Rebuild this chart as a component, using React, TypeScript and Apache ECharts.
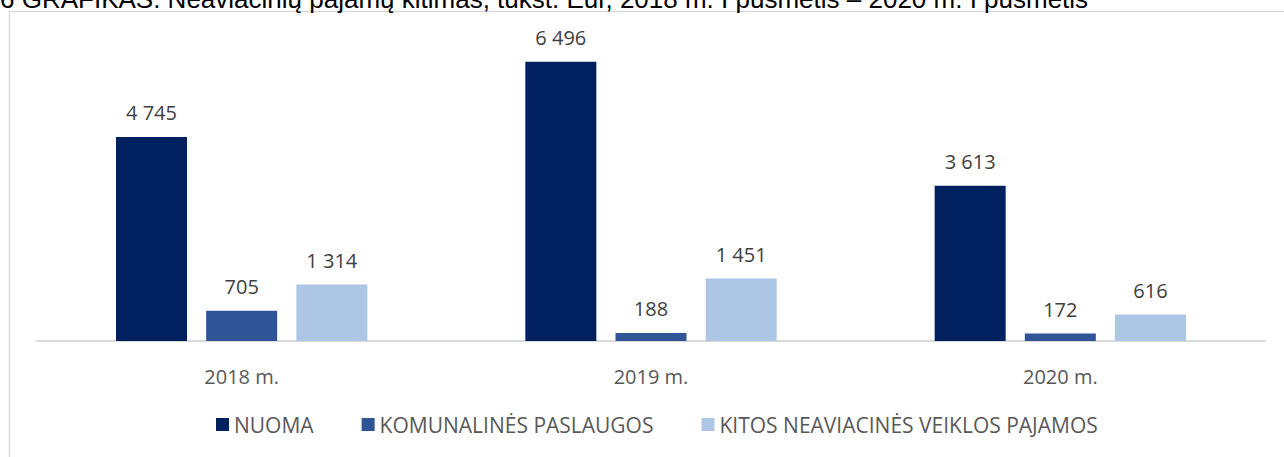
import React, { useEffect, useRef } from "react";
import * as echarts from "echarts";

const categories = ["2018 m.", "2019 m.", "2020 m."];
const seriesNames = ["NUOMA", "KOMUNALINĖS PASLAUGOS", "KITOS NEAVIACINĖS VEIKLOS PAJAMOS"];
const nuoma = [4745, 6496, 3613];
const komunalines = [705, 188, 172];
const kitos = [1314, 1451, 616];
const colors = ["#002060", "#2F5597", "#ADC6E6"];
const titleText = "6 GRAFIKAS. Neaviacinių pajamų kitimas, tūkst. Eur, 2018 m. I pusmetis – 2020 m. I pusmetis";

const fmt = (v: number) => String(v).replace(/\B(?=(\d{3})+(?!\d))/g, " ");

export default function App() {
  const ref = useRef<HTMLDivElement>(null);
  useEffect(() => {
    if (!ref.current) return;
    const chart = echarts.init(ref.current, undefined, { renderer: "svg" });
    const font = "'Open Sans', sans-serif";
    const mk = (name: string, data: number[], color: string) => ({
      name,
      type: "bar",
      data,
      barWidth: 71,
      barGap: "27%",
      itemStyle: { color },
      label: {
        show: true,
        position: "top",
        distance: 14,
        color: "#404040",
        fontSize: 20,
        fontFamily: font,
        formatter: (p: any) => fmt(p.value),
      },
    });
    chart.setOption({
      animation: false,
      backgroundColor: "#ffffff",
      grid: { left: 37, right: 19, top: 40, bottom: 457 - 341 },
      xAxis: {
        type: "category",
        data: categories,
        axisLine: { lineStyle: { color: "#D9D9D9", width: 2 } },
        axisTick: { show: false },
        axisLabel: { color: "#595959", fontSize: 20, fontFamily: font, margin: 25 },
      },
      yAxis: {
        type: "value",
        min: 0,
        max: 7000,
        show: false,
        splitLine: { show: false },
      },
      legend: {
        bottom: 17,
        left: 211,
        itemWidth: 13,
        itemHeight: 13,
        itemGap: 48,
        icon: "rect",
        textStyle: { color: "#595959", fontSize: 21, fontFamily: font },
        data: seriesNames,
      },
      graphic: [
        {
          type: "rect",
          shape: { x: 9.5, y: 11.5, width: 1400, height: 600 },
          style: { fill: "none", stroke: "#D9D9D9", lineWidth: 1.5 },
          silent: true,
        },
        {
          type: "text",
          x: 0,
          y: -1,
          style: {
            text: titleText,
            fill: "#000000",
            fontSize: 26,
            fontFamily: "'Liberation Sans', Arial, sans-serif",
            verticalAlign: "middle",
            align: "left",
          },
        },
      ],
      series: [
        mk(seriesNames[0], nuoma, colors[0]),
        mk(seriesNames[1], komunalines, colors[1]),
        mk(seriesNames[2], kitos, colors[2]),
      ],
    });
    return () => chart.dispose();
  }, []);
  return (
    <div
      ref={ref}
      style={{ position: "absolute", left: 0, top: 0, width: 1284, height: 457 }}
    />
  );
}
